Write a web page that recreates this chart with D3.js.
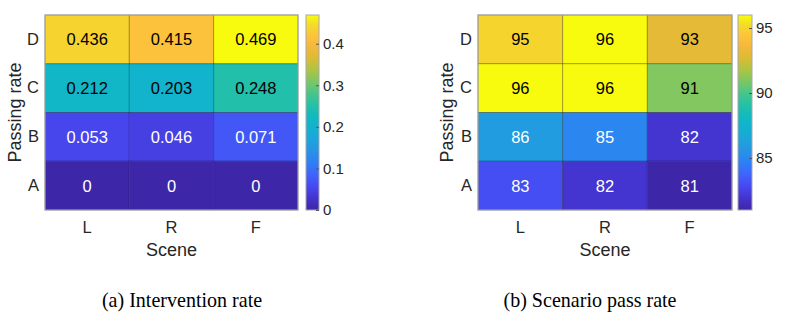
<!DOCTYPE html>
<html><head><meta charset="utf-8">
<script src="https://cdn.jsdelivr.net/npm/d3@7"></script>
<style>html,body{margin:0;padding:0;background:#fff;}svg{display:block;}</style>
</head><body>
<svg id="c" width="792" height="326"></svg>
<script>
const scenes = ["L", "R", "F"];
const grades = ["D", "C", "B", "A"];          // top to bottom
const interventionRate = [                    // rows D, C, B, A ; cols L, R, F
  [0.436, 0.415, 0.469],
  [0.212, 0.203, 0.248],
  [0.053, 0.046, 0.071],
  [0, 0, 0]
];
const passRate = [
  [95, 96, 93],
  [96, 96, 91],
  [86, 85, 82],
  [83, 82, 81]
];
const interventionTicks = [0, 0.1, 0.2, 0.3, 0.4];
const passTicks = [85, 90, 95];
const captions = ["(a) Intervention rate", "(b) Scenario pass rate"];

// parula-like colormap stops
const parulaStops = ["#3e26a8","#4433cc","#4748f0","#3f63fb","#2f7ef7","#2792e6","#1da4db","#12b1d0",
  "#11bac0","#26c0a6","#48c58a","#7cc763","#aec444","#dcbb35","#f5b83c","#fec53a","#f2dc28","#f9fb0e"];
const parulaPos = [0,0.06,0.12,0.18,0.24,0.30,0.36,0.42,0.48,0.54,0.60,0.66,0.72,0.78,0.84,0.90,0.95,1.0];
const parula = d3.scaleLinear().domain(parulaPos).range(parulaStops).interpolate(d3.interpolateRgb).clamp(true);

const svg = d3.select("#c");
const defs = svg.append("defs");
const txt = "#262626";
const sans = "'Liberation Sans', Arial, sans-serif";

function panel(cfg) {
  const {x0, x1, y0, y1, cbx0, cbx1, data, ticks, fmt, ylabX, capX, cap, id} = cfg;
  const flat = data.flat();
  const vmin = d3.min(flat), vmax = d3.max(flat);
  const norm = d3.scaleLinear().domain([vmin, vmax]).range([0, 1]);
  const color = v => parula(norm(v));
  const xs = d3.scaleBand().domain(scenes).range([x0, x1]);
  const ys = d3.scaleBand().domain(grades).range([y0, y1]);
  const g = svg.append("g");

  const cells = [];
  grades.forEach((gr, i) => scenes.forEach((sc, j) => cells.push({gr, sc, v: data[i][j]})));
  g.selectAll("rect.cell").data(cells).enter().append("rect")
    .attr("x", d => xs(d.sc)).attr("y", d => ys(d.gr))
    .attr("width", xs.bandwidth()).attr("height", ys.bandwidth())
    .attr("fill", d => color(d.v))
    .attr("stroke", "rgba(0,0,0,0.28)").attr("stroke-width", 1);
  g.selectAll("text.val").data(cells).enter().append("text")
    .attr("x", d => xs(d.sc) + xs.bandwidth() / 2)
    .attr("y", d => ys(d.gr) + ys.bandwidth() / 2)
    .attr("dy", "0.36em").attr("text-anchor", "middle")
    .attr("font-family", sans).attr("font-size", 16.5)
    .attr("fill", d => {
      const c = d3.rgb(color(d.v));
      const lum = 0.299 * c.r + 0.587 * c.g + 0.114 * c.b;
      return lum > 130 ? "#000" : "#fff";
    })
    .text(d => fmt(d.v));
  g.append("rect").attr("x", x0).attr("y", y0).attr("width", x1 - x0).attr("height", y1 - y0)
    .attr("fill", "none").attr("stroke", "#a8a8a8").attr("stroke-width", 1.2);

  // axes
  const xAxis = d3.axisBottom(xs).tickSize(0).tickPadding(0);
  const gx = g.append("g").attr("transform", `translate(0,${y1})`).call(xAxis);
  gx.select(".domain").remove();
  gx.selectAll("text").attr("font-family", sans).attr("font-size", 16.5).attr("fill", txt).attr("dy", null).attr("y", 23);
  const yAxis = d3.axisLeft(ys).tickSize(0).tickPadding(6);
  const gy = g.append("g").attr("transform", `translate(${x0},0)`).call(yAxis);
  gy.select(".domain").remove();
  gy.selectAll("text").attr("font-family", sans).attr("font-size", 16.5).attr("fill", txt);

  g.append("text").attr("x", (x0 + x1) / 2).attr("y", 256).attr("text-anchor", "middle")
    .attr("font-family", sans).attr("font-size", 18).attr("fill", txt).text("Scene");
  g.append("text").attr("transform", `translate(${ylabX},${(y0 + y1) / 2}) rotate(-90)`)
    .attr("text-anchor", "middle").attr("dy", "0.36em")
    .attr("font-family", sans).attr("font-size", 18).attr("fill", txt).text("Passing rate");

  // colorbar
  const cy = d3.scaleLinear().domain([vmin, vmax]).range([y1, y0]);
  const grad = defs.append("linearGradient").attr("id", id).attr("x1", 0).attr("x2", 0).attr("y1", 1).attr("y2", 0);
  d3.range(0, 1.0001, 0.02).forEach(t => grad.append("stop").attr("offset", t).attr("stop-color", parula(t)));
  g.append("rect").attr("x", cbx0).attr("y", y0).attr("width", cbx1 - cbx0).attr("height", y1 - y0)
    .attr("fill", `url(#${id})`).attr("stroke", "#a8a8a8").attr("stroke-width", 1);
  const cAxis = d3.axisRight(cy).tickValues(ticks).tickSize(3).tickPadding(4).tickFormat(d3.format(""));
  const gc = g.append("g").attr("transform", `translate(${cbx1},0)`).call(cAxis);
  gc.select(".domain").remove();
  gc.selectAll(".tick line").attr("x2", -3).attr("stroke", "#555");
  gc.selectAll("text").attr("x", 4).attr("font-family", sans).attr("font-size", 15).attr("fill", txt);

  svg.append("text").attr("transform", `translate(${capX},307) scale(0.955,1)`).attr("text-anchor", "middle")
    .attr("font-family", "'Liberation Serif', 'Times New Roman', serif").attr("font-size", 21)
    .attr("fill", "#000").text(cap);
}

panel({x0: 45, x1: 298, y0: 15, y1: 210, cbx0: 306, cbx1: 319, data: interventionRate,
  ticks: interventionTicks, fmt: d => d === 0 ? "0" : d3.format(".3f")(d), ylabX: 15, capX: 182, cap: captions[0], id: "g1"});
panel({x0: 478, x1: 732, y0: 15, y1: 210, cbx0: 738, cbx1: 752, data: passRate,
  ticks: passTicks, fmt: d => String(d), ylabX: 447, capX: 590, cap: captions[1], id: "g2"});
</script>
</body></html>
